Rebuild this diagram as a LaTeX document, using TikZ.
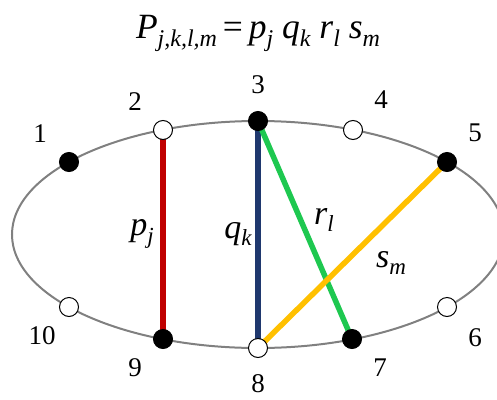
\documentclass[tikz,border=0pt]{standalone}
\usepackage{fontspec}
\setmainfont{Liberation Serif}
\definecolor{ellgray}{RGB}{128,128,128}
\definecolor{pred}{RGB}{192,0,0}
\definecolor{qblue}{RGB}{31,56,110}
\definecolor{rgreen}{RGB}{30,200,80}
\definecolor{syellow}{RGB}{255,192,0}
\newcommand\lsub[1]{\raisebox{-7.5pt}{\fontsize{23}{25}\selectfont\itshape #1}}
\newcommand\esub[1]{\raisebox{-8pt}{\fontsize{24}{26}\selectfont\itshape #1}}
\begin{document}
\begin{tikzpicture}[x=1pt,y=-1pt,
  blackdot/.style={circle,draw=black,fill=black,line width=1pt,minimum size=19pt,inner sep=0pt},
  whitedot/.style={circle,draw=black,fill=white,line width=1pt,minimum size=19pt,inner sep=0pt},
  numlabel/.style={font=\fontsize{27}{30}\selectfont,inner sep=0pt},
  edgelabel/.style={font=\fontsize{34}{38}\selectfont\itshape,inner sep=0pt},
  eqlabel/.style={font=\fontsize{35.5}{40}\selectfont\itshape,inner sep=0pt},
  chord/.style={line width=5.5pt}]
\useasboundingbox (0,0) rectangle (497,399);
\coordinate (c1) at (69,162);
\coordinate (c2) at (163,130);
\coordinate (c3) at (258,121);
\coordinate (c4) at (353,130);
\coordinate (c5) at (447,162);
\coordinate (c6) at (447,307);
\coordinate (c7) at (352,339);
\coordinate (c8) at (258,348);
\coordinate (c9) at (163,339);
\coordinate (c10) at (69,307);
\draw[ellgray,line width=2pt] (258,234.5) ellipse [x radius=246pt, y radius=113.5pt];
\draw[chord,pred] (c2) -- (c9);
\draw[chord,qblue] (c3) -- (c8);
\draw[chord,rgreen] (c3) -- (c7);
\draw[chord,syellow] (c5) -- (c8);
\node[blackdot] (d1) at (c1) {};
\node[whitedot] (d2) at (c2) {};
\node[blackdot] (d3) at (c3) {};
\node[whitedot] (d4) at (c4) {};
\node[blackdot] (d5) at (c5) {};
\node[whitedot] (d6) at (c6) {};
\node[blackdot] (d7) at (c7) {};
\node[whitedot] (d8) at (c8) {};
\node[blackdot] (d9) at (c9) {};
\node[whitedot] (d10) at (c10) {};
\node[numlabel] (n1) at (40,134) {1};
\node[numlabel] (n2) at (135,102) {2};
\node[numlabel] (n3) at (258,85) {3};
\node[numlabel] (n4) at (381,100) {4};
\node[numlabel] (n5) at (475,133) {5};
\node[numlabel] (n6) at (475,338) {6};
\node[numlabel] (n7) at (380,368) {7};
\node[numlabel] (n8) at (258,384) {8};
\node[numlabel] (n9) at (135,368) {9};
\node[numlabel] (n10) at (42,336) {10};
\node[edgelabel] (lp) at (142,234) {p\lsub{j}};
\node[edgelabel] (lq) at (238,234) {q\lsub{k}};
\node[edgelabel] (lr) at (324,220) {r\lsub{l}};
\node[edgelabel] (ls) at (391,263) {s\lsub{m}};
\node[eqlabel] (eq) at (258,33) {P\esub{j,k,l,m}\,{\upshape=}\,p\esub{j} q\esub{k} r\esub{l} s\esub{m}};
\end{tikzpicture}
\end{document}
